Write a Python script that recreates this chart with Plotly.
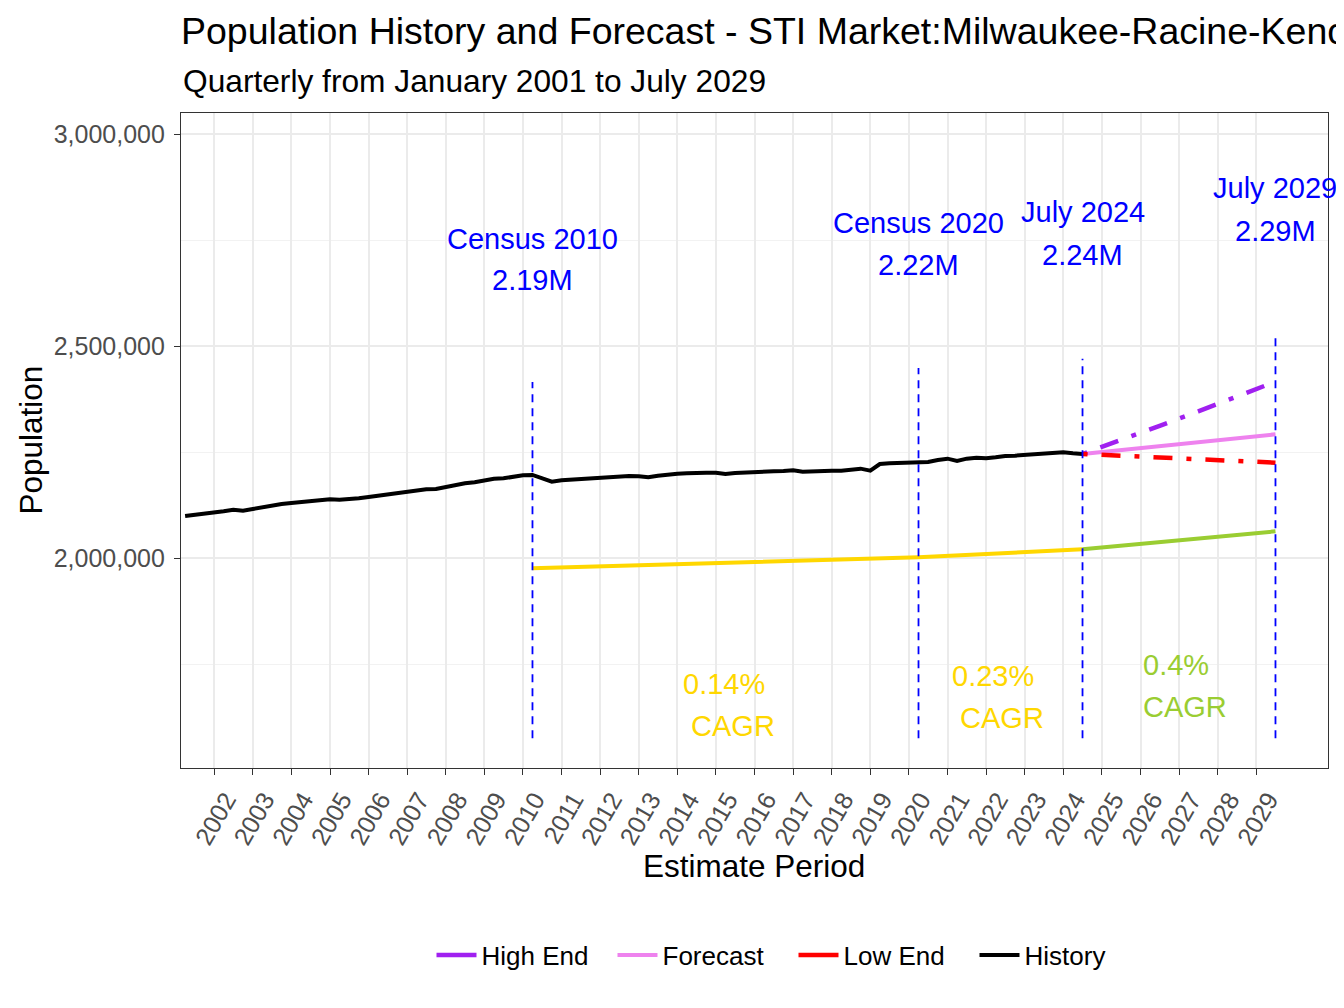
import plotly.graph_objects as go

# quarterly history
hist_dates = [
    "2001-04-01", "2001-07-01", "2001-10-01",
    "2002-01-01", "2002-04-01", "2002-07-01", "2002-10-01",
    "2003-01-01", "2003-04-01", "2003-07-01", "2003-10-01",
    "2004-01-01", "2004-04-01", "2004-07-01", "2004-10-01",
    "2005-01-01", "2005-04-01", "2005-07-01", "2005-10-01",
    "2006-01-01", "2006-04-01", "2006-07-01", "2006-10-01",
    "2007-01-01", "2007-04-01", "2007-07-01", "2007-10-01",
    "2008-01-01", "2008-04-01", "2008-07-01", "2008-10-01",
    "2009-01-01", "2009-04-01", "2009-07-01", "2009-10-01",
    "2010-01-01", "2010-04-01", "2010-07-01", "2010-10-01",
    "2011-01-01", "2011-04-01", "2011-07-01", "2011-10-01",
    "2012-01-01", "2012-04-01", "2012-07-01", "2012-10-01",
    "2013-01-01", "2013-04-01", "2013-07-01", "2013-10-01",
    "2014-01-01", "2014-04-01", "2014-07-01", "2014-10-01",
    "2015-01-01", "2015-04-01", "2015-07-01", "2015-10-01",
    "2016-01-01", "2016-04-01", "2016-07-01", "2016-10-01",
    "2017-01-01", "2017-04-01", "2017-07-01", "2017-10-01",
    "2018-01-01", "2018-04-01", "2018-07-01", "2018-10-01",
    "2019-01-01", "2019-04-01", "2019-07-01", "2019-10-01",
    "2020-01-01", "2020-04-01", "2020-07-01", "2020-10-01",
    "2021-01-01", "2021-04-01", "2021-07-01", "2021-10-01",
    "2022-01-01", "2022-04-01", "2022-07-01", "2022-10-01",
    "2023-01-01", "2023-04-01", "2023-07-01", "2023-10-01",
    "2024-01-01", "2024-04-01", "2024-07-01",
]
hist_pop = [
    2099000, 2101400, 2104600,
    2107700, 2110100, 2114000, 2111600,
    2115600, 2119500, 2124200, 2127400,
    2129700, 2132100, 2135200, 2137600,
    2138400, 2137600, 2138000, 2140700,
    2143900, 2147000, 2150200, 2153300,
    2156400, 2159600, 2162000, 2162700,
    2166700, 2173000, 2176100, 2178500,
    2182400, 2187100, 2187900, 2191800,
    2195000, 2195800, 2187900, 2180000,
    2183200, 2184700, 2186300, 2188700,
    2189500, 2191000, 2193400, 2193400,
    2192600, 2190300, 2194200, 2197300,
    2198900, 2199700, 2201300, 2201300,
    2201300, 2198100, 2200500, 2202000,
    2203600, 2203600, 2204400, 2205200,
    2206800, 2203600, 2204800, 2205600,
    2206000, 2206000, 2207500, 2210700,
    2206000, 2221700, 2223300, 2224100,
    2224800, 2225600, 2226400, 2231100,
    2234300, 2228800, 2234300, 2236600,
    2235100, 2237400, 2240600, 2241400,
    2242900, 2244500, 2245300, 2247600,
    2249200, 2246900, 2245300,
]

# forecast scenarios
fc_dates = ["2024-07-01", "2025-07-01", "2026-07-01", "2027-07-01", "2028-07-01", "2029-07-01"]
fc_mid = [2245300, 2254600, 2263900, 2273200, 2282500, 2291700]
fc_high = [2245300, 2279900, 2311800, 2345700, 2380900, 2415900]
fc_low = [2245300, 2241500, 2237000, 2233500, 2229600, 2224800]

# CAGR guide lines
cagr_hist_dates = ["2010-04-01", "2020-04-01", "2024-07-01"]
cagr_hist_pop = [1975600, 2001600, 2020400]
cagr_fc_dates = ["2024-07-01", "2029-07-01"]
cagr_fc_pop = [2020400, 2062900]
cagr_text = ["0.14%", "0.23%", "0.4%"]

# reference points
mark_dates = ["2010-04-01", "2020-04-01", "2024-07-01", "2029-07-01"]
mark_names = ["Census 2010", "Census 2020", "July 2024", "July 2029"]
mark_labels = ["2.19M", "2.22M", "2.24M", "2.29M"]
mark_pop = [2195800, 2225600, 2245300, 2291700]

year_ticks = ["2002", "2003", "2004", "2005", "2006", "2007", "2008", "2009", "2010",
              "2011", "2012", "2013", "2014", "2015", "2016", "2017", "2018", "2019",
              "2020", "2021", "2022", "2023", "2024", "2025", "2026", "2027", "2028", "2029"]

FONT = "Liberation Sans, Arial, sans-serif"
GOLD = "#FFD700"
YGREEN = "#9ACD32"
PURPLE = "#A020F0"
VIOLET = "#EE82EE"
RED = "#FF0000"

# page has an 8px body margin, so the figure is 8px smaller each way
W, H = 1336, 1000

fig = go.Figure()

dashdot = "5px,14px,19px,14px"

# legend entries (solid keys like the original)
fig.add_trace(go.Scatter(x=[None], y=[None], mode="lines", name="High End",
                         line=dict(color=PURPLE, width=4.5)))
fig.add_trace(go.Scatter(x=fc_dates, y=fc_mid, mode="lines", name="Forecast",
                         line=dict(color=VIOLET, width=4)))
fig.add_trace(go.Scatter(x=[None], y=[None], mode="lines", name="Low End",
                         line=dict(color=RED, width=4.5)))
fig.add_trace(go.Scatter(x=hist_dates, y=hist_pop, mode="lines", name="History",
                         line=dict(color="black", width=4)))

fig.add_trace(go.Scatter(x=fc_dates, y=fc_high, mode="lines", showlegend=False,
                         line=dict(color=PURPLE, width=4.5, dash=dashdot)))
fig.add_trace(go.Scatter(x=fc_dates, y=fc_low, mode="lines", showlegend=False,
                         line=dict(color=RED, width=4.5, dash=dashdot)))

fig.add_trace(go.Scatter(x=cagr_hist_dates, y=cagr_hist_pop, mode="lines", showlegend=False,
                         line=dict(color=GOLD, width=4)))
fig.add_trace(go.Scatter(x=cagr_fc_dates, y=cagr_fc_pop, mode="lines", showlegend=False,
                         line=dict(color=YGREEN, width=4)))

# dashed markers and their labels
for d, name, lab, pop in zip(mark_dates, mark_names, mark_labels, mark_pop):
    fig.add_trace(go.Scatter(x=[d, d], y=[1575000, pop * 1.1], mode="lines", showlegend=False,
                             line=dict(color="blue", width=1.8, dash="8px,6px")))
    fig.add_annotation(x=d, y=pop * 1.254, text=name, showarrow=False,
                       font=dict(size=29, color="blue", family=FONT), yanchor="middle")
    fig.add_annotation(x=d, y=pop * 1.209, text=lab, showarrow=False,
                       font=dict(size=29, color="blue", family=FONT), yanchor="middle")

# CAGR labels (left aligned, second line)
cagr_pos = [("2014-02-01", 1702800, 1603800, "\u00a0CAGR", GOLD),
            ("2021-01-24", 1721700, 1622600, "\u00a0CAGR", GOLD),
            ("2026-01-05", 1747600, 1648600, "CAGR", YGREEN)]
for txt, (d, y1, y2, second, col) in zip(cagr_text, cagr_pos):
    fig.add_annotation(x=d, y=y1, text=txt, showarrow=False, xanchor="left", yanchor="middle",
                       font=dict(size=29, color=col, family=FONT))
    fig.add_annotation(x=d, y=y2, text=second, showarrow=False, xanchor="left", yanchor="middle",
                       font=dict(size=29, color=col, family=FONT))

# subtitle and axis titles
fig.add_annotation(text="Quarterly from January 2001 to July 2029", xref="paper", yref="paper",
                   x=0, y=(768 - 81) / 655, xanchor="left", yanchor="middle", showarrow=False,
                   font=dict(size=31.7, color="black", family=FONT))
fig.add_annotation(text="Estimate Period", xref="paper", yref="paper",
                   x=(754 - 181) / 1147, y=(768 - 866) / 655, yanchor="middle", showarrow=False,
                   font=dict(size=31.5, color="black", family=FONT))
fig.add_annotation(text="Population", xref="paper", yref="paper", textangle=-90,
                   x=(30 - 181) / 1147, y=0.5, xanchor="center", yanchor="middle", showarrow=False,
                   font=dict(size=31.5, color="black", family=FONT))

fig.update_layout(
    width=W, height=H,
    margin=dict(l=173, r=16, t=105, b=240),
    plot_bgcolor="white", paper_bgcolor="white",
    font=dict(family=FONT, color="black"),
    title=dict(text="Population History and Forecast - STI Market:Milwaukee-Racine-Kenosha",
               x=0, xref="paper", xanchor="left", y=1 - 23 / H, yanchor="middle",
               font=dict(size=37.5, color="black", family=FONT)),
    legend=dict(orientation="h", x=0.534, xanchor="center", y=(768 - 955) / 655, yanchor="middle",
                font=dict(size=26, color="black", family=FONT),
                itemwidth=40, entrywidth=126, entrywidthmode="pixels"),
)

fig.update_xaxes(
    type="date", range=["2001-02-21", "2030-11-10"],
    tickvals=[y + "-01-01" for y in year_ticks], ticktext=year_ticks, tickangle=-60,
    tickfont=dict(size=25, color="#4D4D4D", family=FONT), ticklabelshift=12,
    ticks="outside", ticklen=6, tickwidth=1.3, tickcolor="#333333",
    showgrid=True, gridcolor="#EBEBEB", gridwidth=1.5,
    showline=True, linecolor="#333333", linewidth=1.3, mirror=True, zeroline=False,
)
fig.update_yaxes(
    range=[1504715, 3049528], tickvals=[2000000, 2500000, 3000000], tickformat=",",
    tickfont=dict(size=25, color="#4D4D4D", family=FONT), ticklabelstandoff=4,
    ticks="outside", ticklen=6, tickwidth=1.3, tickcolor="#333333",
    showgrid=True, gridcolor="#EBEBEB", gridwidth=1.5,
    minor=dict(tickvals=[1750000, 2250000, 2750000], showgrid=True, gridcolor="#F2F2F2",
               gridwidth=0.8, ticks=""),
    showline=True, linecolor="#333333", linewidth=1.3, mirror=True, zeroline=False,
)

fig.write_html("out.html")
